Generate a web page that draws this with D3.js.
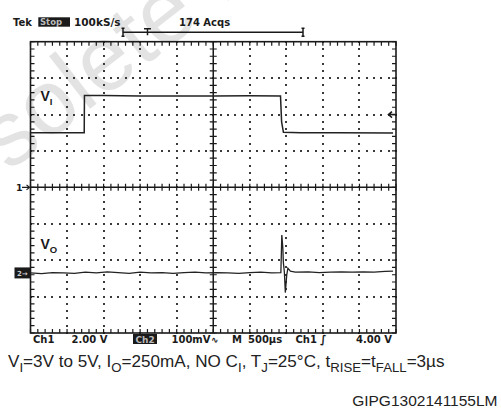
<!DOCTYPE html>
<html>
<head>
<meta charset="utf-8">
<script src="https://cdn.jsdelivr.net/npm/d3@7"></script>
<style>
  body { margin: 0; background: #fff; }
  svg { display: block; }
</style>
</head>
<body>
<script>
// scope settings
var timePerDiv = 500;      // us / div
var ch1VoltsPerDiv = 2;    // V / div
var ch2mVPerDiv = 100;     // mV / div
var ch2Offset = -2.35;     // ch2 ground, in divisions from centre
var trigLevel = 4;         // V

// V_I (ch1), time in us, volts
var viTime  = [0, 300, 600, 735, 738, 1000, 1500, 2000, 2500, 3000, 3420, 3435, 3460, 3700, 4200, 4960];
var viVolts = [3, 3, 3, 3, 5.05, 5.05, 5.02, 5.02, 5.02, 5.03, 5.02, 3.6, 3.02, 3.0, 3.0, 2.98];

// V_O (ch2), time in us, mV
var voTime = [0, 150, 300, 450, 600, 750, 900, 1050, 1200, 1350, 1500, 1650, 1800, 1950, 2100,
  2250, 2400, 2550, 2700, 2850, 3000, 3150, 3300, 3425, 3438, 3452, 3459, 3473, 3486, 3505,
  3521, 3555, 3623, 3800, 3950, 4100, 4250, 4400, 4550, 4700, 4850, 4960];
var voMilli = [0, -2, 1, 0, -1, 2, 0, 3, 1, -1, 2, 0, 1, -1, 1,
  2, 0, 1, 0, -1, 1, 2, 0, 1, 104, 68, 29, 2, -54, -6,
  13, 5, 2, 3, 1, 2, 3, 2, 3, 2, 4, 5];

var W = 501, H = 410;
var gLeft = 30.5, gRight = 396, gTop = 41.7, gBottom = 333;

var svg = d3.select('body').append('svg')
  .attr('width', W).attr('height', H);

// faint watermark
svg.append('text')
  .attr('transform', 'translate(-88,248) rotate(-38)')
  .attr('font-family', 'Liberation Sans, Arial, sans-serif')
  .attr('font-size', 92)
  .attr('fill', '#e3e3e3')
  .text('Obsolete Product(s)');

var x = d3.scaleLinear().domain([0, 10 * timePerDiv]).range([gLeft, gRight]);
var xDiv = d3.scaleLinear().domain([0, 10]).range([gLeft, gRight]);
var yDiv = d3.scaleLinear().domain([-4, 4]).range([gBottom, gTop]);
var y1 = d3.scaleLinear().domain([-4 * ch1VoltsPerDiv, 4 * ch1VoltsPerDiv]).range([gBottom, gTop]);
var y2 = d3.scaleLinear()
  .domain([(-4 - ch2Offset) * ch2mVPerDiv, (4 - ch2Offset) * ch2mVPerDiv])
  .range([gBottom, gTop]);

var ink = '#1a1a1a';
var sub = d3.range(0, 51).map(function(i) { return i / 5; });
var subY = d3.range(-20, 21).map(function(i) { return i / 5; });

// dotted graticule, built as one path of small squares
var dotPath = d3.path();
function addDot(px, py) {
  dotPath.rect(Math.round(px) - 1, Math.round(py) - 1, 2, 2);
}
[1, 2, 3, 4, 6, 7, 8, 9].forEach(function(k) {
  subY.forEach(function(d) { addDot(xDiv(k), yDiv(d)); });
});
[-3, -2, -1, 1, 2, 3].forEach(function(k) {
  sub.forEach(function(d) { addDot(xDiv(d), yDiv(k)); });
});
svg.append('path').attr('d', dotPath.toString()).attr('fill', '#3a3a3a');

// minor ticks on the border and the centre cross
var tickPath = d3.path();
sub.forEach(function(d) {
  var px = xDiv(d);
  tickPath.moveTo(px, gTop); tickPath.lineTo(px, gTop + 4);
  tickPath.moveTo(px, gBottom); tickPath.lineTo(px, gBottom - 4);
  tickPath.moveTo(px, yDiv(0) - 3.5); tickPath.lineTo(px, yDiv(0) + 3.5);
});
subY.forEach(function(d) {
  var py = yDiv(d);
  tickPath.moveTo(gLeft, py); tickPath.lineTo(gLeft + 4, py);
  tickPath.moveTo(gRight, py); tickPath.lineTo(gRight - 4, py);
  tickPath.moveTo(xDiv(5) - 3.5, py); tickPath.lineTo(xDiv(5) + 3.5, py);
});
svg.append('path').attr('d', tickPath.toString())
  .attr('fill', 'none').attr('stroke', ink).attr('stroke-width', 1.2);

// centre cross and frame
svg.append('line').attr('x1', gLeft).attr('x2', gRight).attr('y1', yDiv(0)).attr('y2', yDiv(0))
  .attr('stroke', ink).attr('stroke-width', 1.5);
svg.append('line').attr('x1', xDiv(5)).attr('x2', xDiv(5)).attr('y1', gTop).attr('y2', gBottom)
  .attr('stroke', ink).attr('stroke-width', 1.5);
svg.append('rect').attr('x', gLeft).attr('y', gTop)
  .attr('width', gRight - gLeft).attr('height', gBottom - gTop)
  .attr('fill', 'none').attr('stroke', ink).attr('stroke-width', 1.6);

// traces
var viLine = d3.line()
  .x(function(d, i) { return x(viTime[i]); })
  .y(function(d) { return y1(d); });
svg.append('path').datum(viVolts)
  .attr('d', viLine).attr('fill', 'none')
  .attr('stroke', '#222').attr('stroke-width', 1.5);

var voLine = d3.line()
  .x(function(d, i) { return x(voTime[i]); })
  .y(function(d) { return y2(d); });
svg.append('path').datum(voMilli)
  .attr('d', voLine).attr('fill', 'none')
  .attr('stroke', '#222').attr('stroke-width', 1.3);

// channel labels
var sans = 'Liberation Sans, Arial, sans-serif';
var vi = svg.append('text').attr('x', 40.5).attr('y', 100.5)
  .attr('font-family', sans).attr('font-weight', 'bold').attr('font-size', 14).attr('fill', ink);
vi.append('tspan').text('V');
vi.append('tspan').attr('dy', 4).attr('font-size', 9.5).text('I');
var vo = svg.append('text').attr('x', 40.5).attr('y', 248.5)
  .attr('font-family', sans).attr('font-weight', 'bold').attr('font-size', 14).attr('fill', ink);
vo.append('tspan').text('V');
vo.append('tspan').attr('dy', 4).attr('font-size', 9.5).text('O');

// ground markers
var scope = 'DejaVu Sans, sans-serif';
svg.append('text').attr('x', 16).attr('y', y1(0) + 3.5)
  .attr('font-family', scope).attr('font-weight', 'bold').attr('font-size', 9.5).attr('fill', ink)
  .text('1');
svg.append('path')
  .attr('d', 'M22,' + y1(0) + 'H' + (gLeft - 1) + 'M' + (gLeft - 4) + ',' + (y1(0) - 2.5) + 'L' + (gLeft - 1) + ',' + y1(0) + 'L' + (gLeft - 4) + ',' + (y1(0) + 2.5))
  .attr('stroke', ink).attr('fill', 'none').attr('stroke-width', 1.2);
svg.append('rect').attr('x', 14.5).attr('y', y2(0) - 5.5).attr('width', 15.5).attr('height', 11)
  .attr('fill', '#1a1a1a');
svg.append('text').attr('x', 17).attr('y', y2(0) + 3)
  .attr('font-family', scope).attr('font-weight', 'bold').attr('font-size', 7).attr('fill', '#ccc')
  .text('2→');

// trigger level arrow on the right
svg.append('path')
  .attr('d', 'M' + (gRight - 1) + ',' + y1(trigLevel) + 'H' + (gRight - 7) +
    'M' + (gRight - 4) + ',' + (y1(trigLevel) - 3) + 'L' + (gRight - 7.5) + ',' + y1(trigLevel) + 'L' + (gRight - 4) + ',' + (y1(trigLevel) + 3))
  .attr('stroke', ink).attr('fill', 'none').attr('stroke-width', 1.6);

// header
function txt(s, xx, yy, opts) {
  opts = opts || {};
  return svg.append('text').attr('x', xx).attr('y', yy)
    .attr('font-family', scope).attr('font-weight', 'bold')
    .attr('font-size', opts.size || 10).attr('fill', opts.fill || ink)
    .attr('text-anchor', opts.anchor || 'start')
    .text(s);
}
txt('Tek', 13, 25.5);
svg.append('rect').attr('x', 38.3).attr('y', 17.3).attr('width', 31.7).attr('height', 9.4).attr('fill', '#1a1a1a');
txt('Stop', 40, 25, { size: 8.5, fill: '#bbb' });
txt('100kS/s', 74, 25.5, { size: 10.5 });
txt('174 Acqs', 179, 25.5);

// record position bracket
var by = 32.3;
svg.append('path')
  .attr('d', 'M123,' + by + 'H303' +
    'M123,' + (by - 4) + 'V' + (by + 4) + 'M121.5,' + (by - 4) + 'H124.5M121.5,' + (by + 4) + 'H124.5' +
    'M303,' + (by - 4) + 'V' + (by + 4) + 'M301.5,' + (by - 4) + 'H304.5M301.5,' + (by + 4) + 'H304.5' +
    'M144,' + (by - 3.5) + 'H151M147.5,' + (by - 3.5) + 'V' + (by + 3))
  .attr('stroke', ink).attr('fill', 'none').attr('stroke-width', 1.5);

// footer readout
txt('Ch1', 33, 342.5);
txt('2.00 V', 71.5, 342.5);
svg.append('rect').attr('x', 133).attr('y', 334).attr('width', 24).attr('height', 10).attr('fill', '#1a1a1a');
txt('Ch2', 135.5, 342.5, { size: 9, fill: '#bbb' });
txt('100mV', 171.5, 342.5);
txt('\u223f', 211, 342.5, { size: 9 });
txt('M', 232, 342.5);
txt('500\u00b5s', 248, 342.5);
txt('Ch1', 295.5, 342.5);
txt('\u222b', 320, 342.5, { size: 11 });
txt('4.00 V', 392, 342.5, { anchor: 'end' });

// caption
var cap = svg.append('text').attr('x', 8).attr('y', 367)
  .attr('font-family', sans).attr('font-size', 17.1).attr('fill', '#222');
var parts = [['V', 0], ['I', 1], ['=3V to 5V, I', 0], ['O', 1], ['=250mA, NO C', 0], ['I', 1],
  [', T', 0], ['J', 1], ['=25\u00b0C, t', 0], ['RISE', 1], ['=t', 0], ['FALL', 1], ['=3\u00b5s', 0]];
var prev = 0;
parts.forEach(function(p) {
  var t = cap.append('tspan').text(p[0]);
  if (p[1]) t.attr('font-size', 13.2);
  t.attr('dy', (p[1] - prev) * 4.5);
  prev = p[1];
});

svg.append('text').attr('x', 497.5).attr('y', 406)
  .attr('font-family', sans).attr('font-size', 15.5)
  .attr('text-anchor', 'end').attr('fill', '#222')
  .text('GIPG1302141155LM');
</script>
</body>
</html>
